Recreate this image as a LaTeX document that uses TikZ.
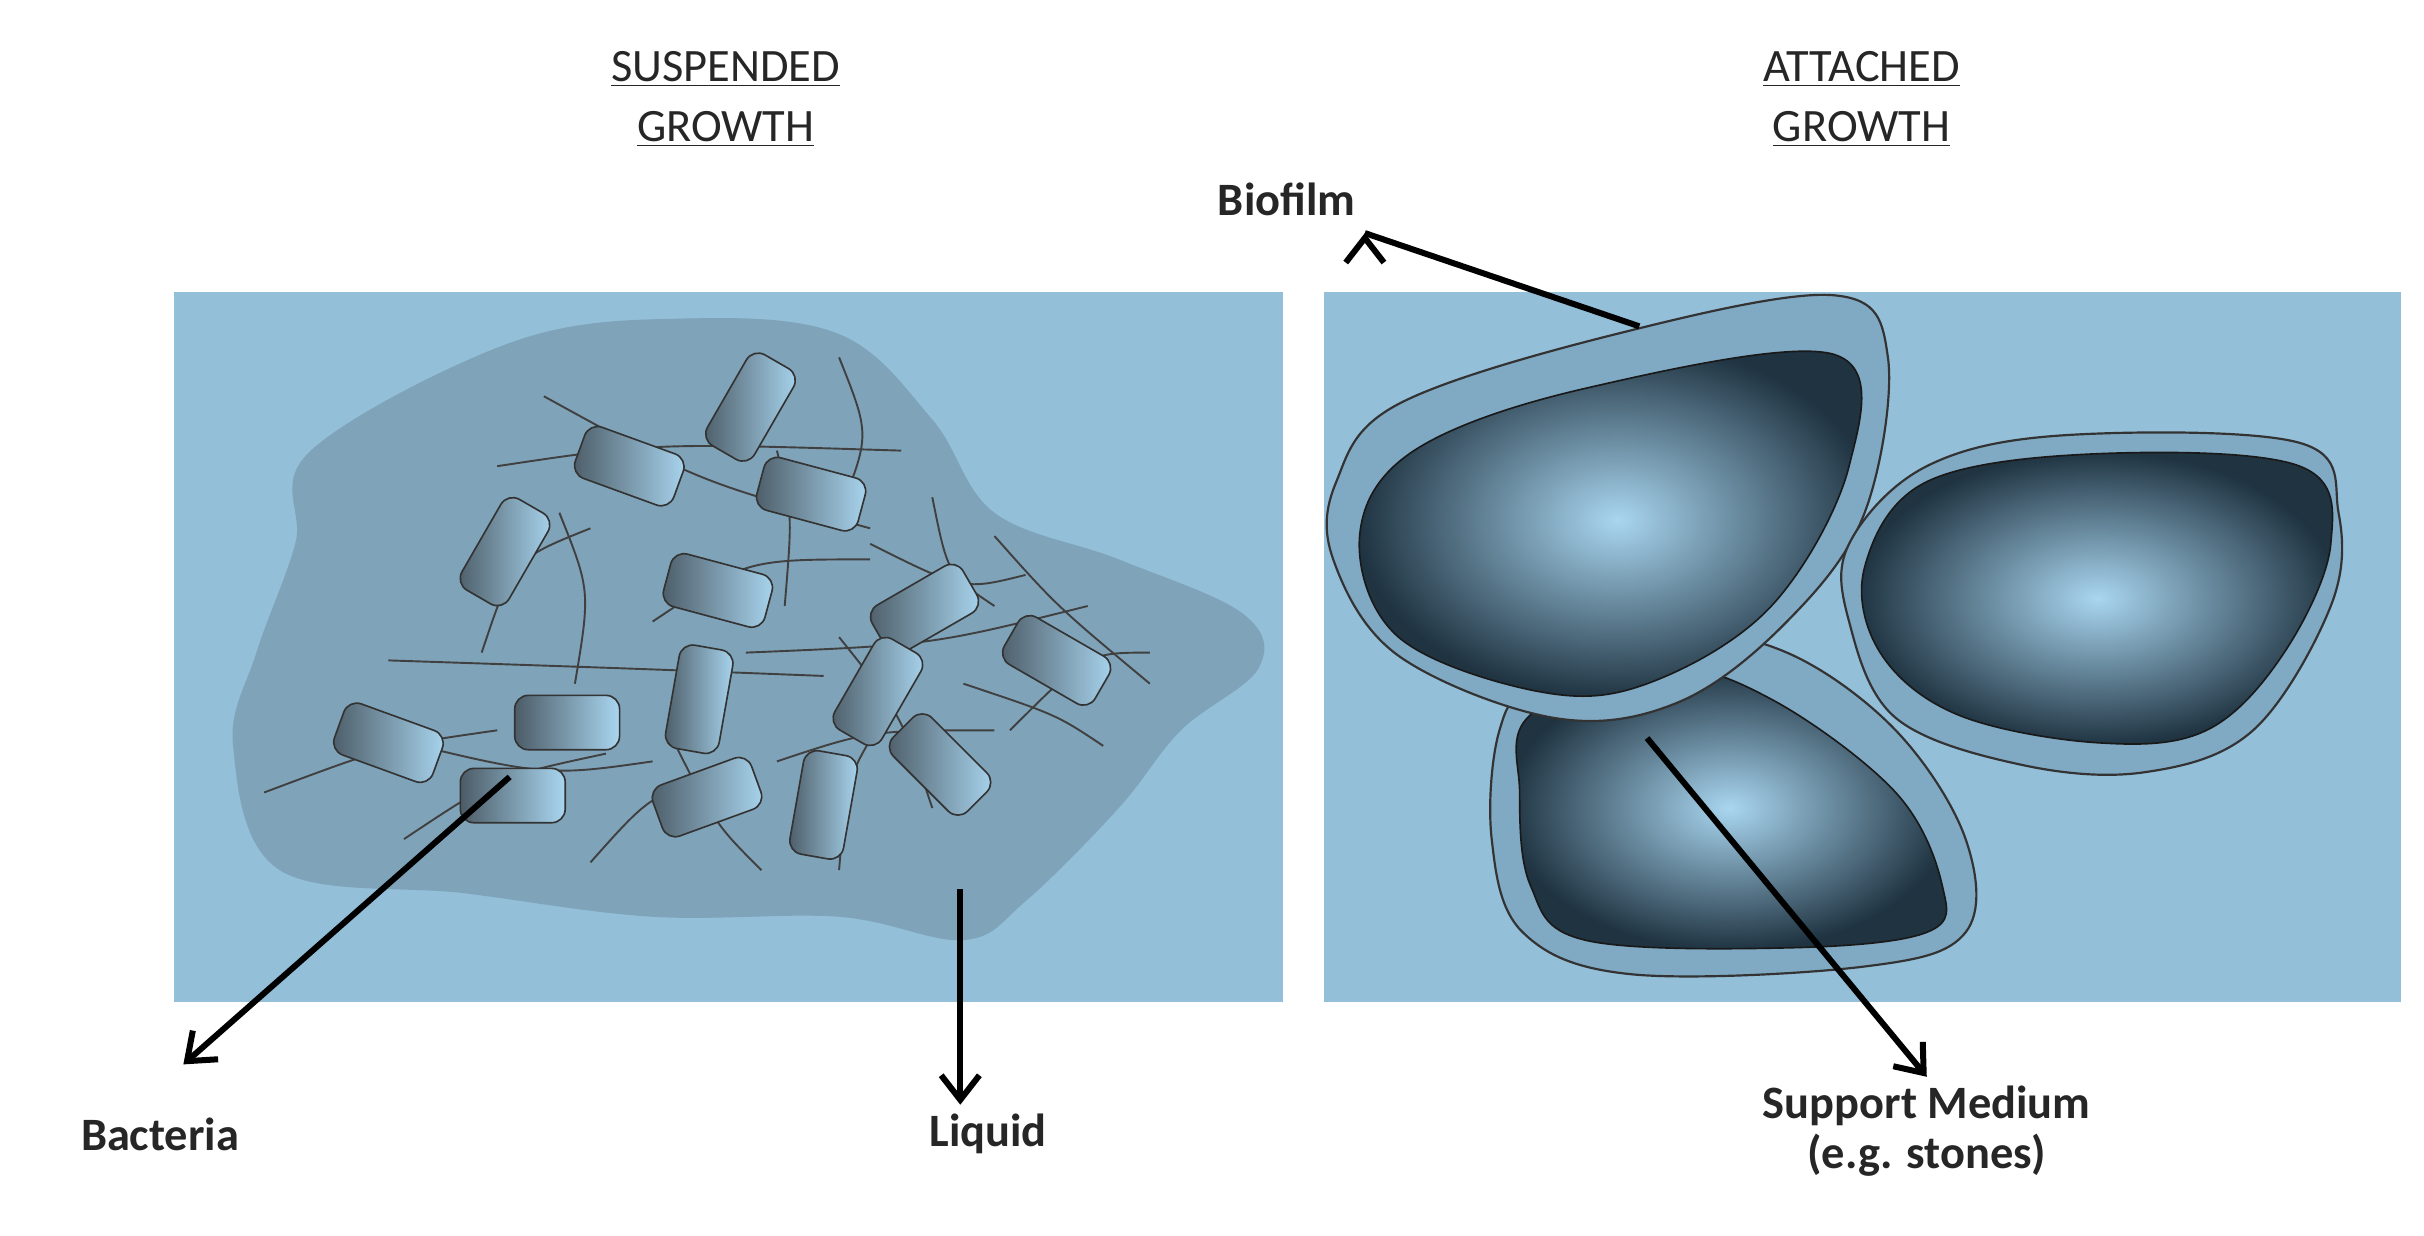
\documentclass[tikz,border=0pt]{standalone}
\usepackage{fontspec}
\setmainfont{Carlito}
\usetikzlibrary{arrows.meta}
\definecolor{water}{HTML}{93BFD9}
\definecolor{floc}{HTML}{7FA3B9}
\definecolor{film}{HTML}{80A9C3}
\definecolor{stoneL}{HTML}{A9D6F0}
\definecolor{stoneD}{HTML}{1F3341}
\tikzset{
 lbl/.style={font=\fontsize{17}{20}\selectfont\bfseries, text=black!85, align=center},
 ttl/.style={font=\fontsize{17}{22}\selectfont, text=black!85, align=center},
 arr/.style={line width=2.2pt, -{Straight Barb[length=9pt,width=14pt,line width=2.2pt]}},
 bug/.style={draw=black!80, line width=0.6pt, rounded corners=5pt, left color=stoneD!80, right color=stoneL, minimum width=1.35cm, minimum height=0.7cm},
 fil/.style={draw=black!75, line width=0.7pt},
 filmS/.style={draw=black!80, line width=0.8pt, fill=film},
 stoneS/.style={draw=black!90, line width=0.6pt, inner color=stoneL, outer color=stoneD}
}
\begin{document}
\begin{tikzpicture}[x=0.02cm,y=-0.02cm]
\useasboundingbox (0,0) rectangle (1560,795);
\fill[white] (0,0) rectangle (1560,795);
% titles
\node[ttl] (t1) at (467,64) {\underline{SUSPENDED}\\\underline{GROWTH}};
\node[ttl] (t2) at (1198,64) {\underline{ATTACHED}\\\underline{GROWTH}};
% panels
\fill[water] (112,188) rectangle (826,645);
\fill[water] (852,188) rectangle (1545,645);
% floc
\fill[floc] plot[smooth cycle, tension=0.6] coordinates {(200,290) (330,220) (440,205) (540,215) (600,270) (640,330) (720,360) (800,395) (810,430) (760,470) (720,520) (660,580) (620,605) (540,590) (420,590) (300,575) (180,560) (150,480) (165,420) (190,350)};
% filaments
\draw[fil] (350,255) .. controls (450,310) .. (560,340);
\draw[fil] (320,300) .. controls (420,285) .. (580,290);
\draw[fil] (540,230) .. controls (560,280) .. (540,330);
\draw[fil] (310,420) .. controls (330,360) .. (380,340);
\draw[fil] (360,330) .. controls (380,380) .. (370,440);
\draw[fil] (500,290) .. controls (510,330) .. (505,390);
\draw[fil] (560,350) .. controls (620,380) .. (660,370);
\draw[fil] (640,345) .. controls (680,390) .. (740,440);
\draw[fil] (250,425) .. controls (400,430) .. (530,435);
\draw[fil] (480,420) .. controls (600,415) .. (700,390);
\draw[fil] (540,410) .. controls (580,460) .. (600,520);
\draw[fil] (170,510) .. controls (250,480) .. (320,470);
\draw[fil] (230,470) .. controls (350,500) .. (420,490);
\draw[fil] (260,540) .. controls (320,500) .. (390,485);
\draw[fil] (430,470) .. controls (460,530) .. (490,560);
\draw[fil] (380,555) .. controls (420,510) .. (470,500);
\draw[fil] (500,490) .. controls (560,470) .. (640,470);
\draw[fil] (540,560) .. controls (545,500) .. (570,460);
\draw[fil] (620,440) .. controls (680,460) .. (710,480);
\draw[fil] (650,470) .. controls (700,420) .. (740,420);
\draw[fil] (420,400) .. controls (480,360) .. (560,360);
\draw[fil] (600,320) .. controls (610,370) .. (640,390);
% bacteria
\foreach \x/\y/\a [count=\i] in {483/262/60,405/300/-20,522/318/-15,325/355/60,462/380/-15,595/392/30,680/425/-30,450/450/80,565/445/60,365/465/0,250/478/-20,330/512/0,455/513/20,530/518/80,605/492/-45}
  \node[bug, rotate=\a] (b\i) at (\x,\y) {};
% stones
\draw[filmS] plot[smooth cycle, tension=0.6] coordinates {(965,470)(990,440)(1080,410)(1150,420)(1220,470)(1265,540)(1265,600)(1200,622)(1050,627)(980,600)(960,540)};
\draw[stoneS] plot[smooth cycle, tension=0.6] coordinates {(985,460)(1070,430)(1140,450)(1220,510)(1250,570)(1240,600)(1150,610)(1020,605)(985,570)(978,510)};
\draw[filmS] plot[smooth cycle, tension=0.6] coordinates {(860,310)(900,260)(1040,215)(1180,190)(1215,230)(1200,330)(1150,400)(1080,452)(1000,462)(900,422)(858,360)};
\draw[stoneS] plot[smooth cycle, tension=0.6] coordinates {(875,345)(910,290)(1020,250)(1180,228)(1190,300)(1140,390)(1060,440)(990,445)(900,410)};
\draw[filmS] plot[smooth cycle, tension=0.6] coordinates {(1190,350)(1240,300)(1330,280)(1480,285)(1505,330)(1500,390)(1450,470)(1380,497)(1300,492)(1220,462)(1190,400)};
\draw[stoneS] plot[smooth cycle, tension=0.6] coordinates {(1200,365)(1240,310)(1350,292)(1480,300)(1500,350)(1470,420)(1420,470)(1350,478)(1260,460)(1210,420)};
% labels
\node[lbl] (bact) at (103,730) {Bacteria};
\node[lbl] (liq) at (636,730) {Liquid};
\node[lbl] (bio) at (828,128) {Biofilm};
\node[lbl] (sup) at (1240,728) {Support Medium\\[-2pt](e.g. stones)};
\coordinate (ab) at (328,500);
\coordinate (al) at (618,572);
\coordinate (af) at (1055,210);
\coordinate (as) at (1060,475);
\draw[arr] (ab) -- (118,685);
\draw[arr] (al) -- (liq.north -| al);
\draw[arr] (af) -- (bio.east |- 0,150) ++(0,0);
\draw[arr] (as) -- (sup.north);
\end{tikzpicture}
\end{document}
